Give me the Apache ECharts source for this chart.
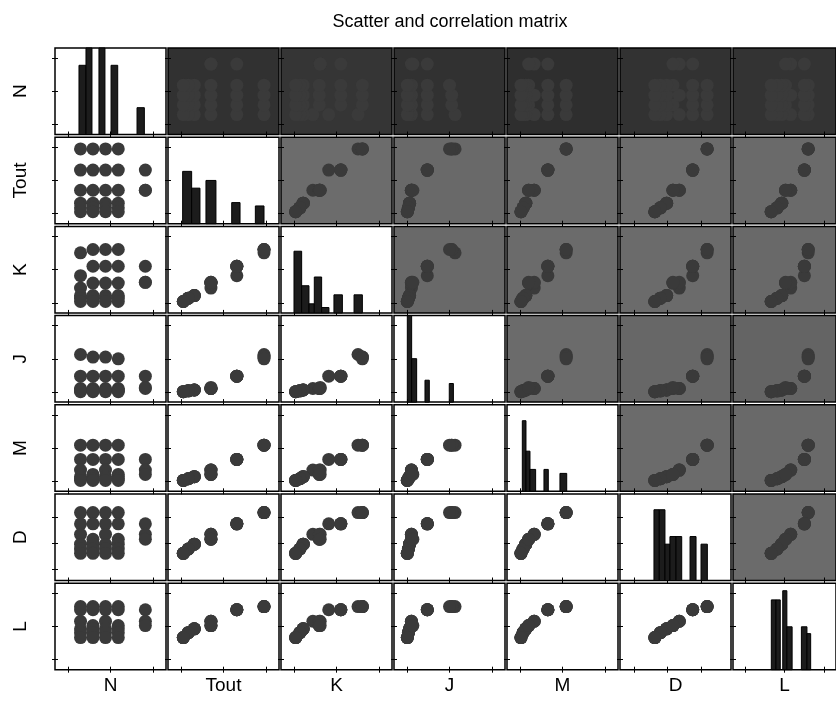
<!DOCTYPE html>
<html>
<head>
<meta charset="utf-8">
<script src="https://cdn.jsdelivr.net/npm/echarts@6/dist/echarts.min.js"></script>
<style>html,body{margin:0;padding:0;background:#fff}#c{width:836px;height:708px}</style>
</head>
<body>
<div id="c"></div>
<script>
// ---- data (values in percent of each variable's axis range) ----
const varNames = ['N', 'Tout', 'K', 'J', 'M', 'D', 'L'];

const N    = [23,23,23,23,23,23, 34.2,34.2,34.2,34.2,34.2,34.2, 45.5,45.5,45.5,45.5,45.5,45.5, 57,57,57,57,57,57, 81.4,81.4,81.4];
const Tout = [86.5,62,38.7,23.7,18.3,13.8, 86.5,62,38.7,23.7,18.3,13.8, 86.5,62,38.7,23.7,18.3,13.8, 86.5,62,38.7,23.7,18.3,13.8, 62,38.7,38.7];
const K    = [69.4,43,28.7,20,17,13.2, 73.3,53.9,34.5,20,17,13.2, 73.3,53.9,34.5,20,17,13.2, 73.3,53.9,34.5,20,17,13.2, 53.9,35.3,35.3];
const J    = [55,30,15.7,14,13,12, 52,30,15.7,14,13,12, 52,30,15.7,14,13,12, 50,30,15.7,14,13,12, 30,15.7,17];
const M    = [53.3,36.8,24.5,16.9,14.5,12.6, 53.3,36.8,19.5,16.9,14.5,12.6, 53.3,36.8,24.5,16.9,14.5,12.6, 53.3,36.8,19.5,16.9,14.5,12.6, 36.8,24.5,19.5];
const D    = [78.5,65.5,53.4,42,36.4,31.4, 78.5,65.5,47.7,42,36.4,31.4, 78.5,65.5,53.4,42,36.4,31.4, 78.5,65.5,47.7,42,36.4,31.4, 65.5,53.4,47.7];
const L    = [73,69.3,56,47.3,42.8,37.1, 73,69.3,51,47.3,42.8,37.1, 73,69.3,56,47.3,42.8,37.1, 73,69.3,51,47.3,42.8,37.1, 69.3,56,51];

// histogram bars on the diagonal: [bin start, bin end, bar height (% of cell)]
const histN    = [[21.6,27.9,80],[27.9,33.3,100],[39.6,45,100],[50.5,56.5,80],[73.9,80.5,31]];
const histTout = [[13.2,21.3,60.5],[21.3,28.8,41.1],[34.2,43.2,50],[57.4,64.9,24.4],[78.7,86.5,20.5]];
const histK    = [[11.7,18.6,71.3],[18.6,25.2,31.4],[25.2,30,10.5],[30,36.6,41.5],[36.6,43.2,6.2],[47.7,55.3,20.9],[65.8,73.3,20.9]];
const histJ    = [[12,15.9,100],[15.9,20.4,50.2],[27.9,31.8,25.3],[49.8,53.5,21.5]];
const histM    = [[13.8,17.1,81.6],[17.1,20.7,46.4],[20.7,25.8,25.3],[33.3,37.2,25.3],[47.7,53.8,20.7]];
const histD    = [[30.6,35.4,81.8],[35.4,40.5,81.8],[40.5,45,42],[45,50.5,50.8],[50.5,55.6,50.8],[63.1,68.5,50.8],[73,78.7,42]];
const histL    = [[37.2,41.7,80.7],[41.7,45.9,80.7],[48.3,52.3,91.3],[52.3,57.4,49.6],[66.4,71.8,49.6],[71.8,75.4,41.7]];

// tick positions of each variable's axis
const tickPos = [[11.7,50,88.3],[11.7,50,88.3],[11.7,50,88.3],[11.7,50,88.3],[11.7,50,88.3],[12.5,43,73.5],[11.7,50,88.3]];

// ---- chart ----
const FONT = '"Liberation Sans", Arial, Helvetica, sans-serif';
const vars = [N, Tout, K, J, M, D, L];
const hists = [histN, histTout, histK, histJ, histM, histD, histL];

function pearson(a, b) {
  const n = a.length;
  let ma = 0, mb = 0;
  for (let k = 0; k < n; k++) { ma += a[k]; mb += b[k]; }
  ma /= n; mb /= n;
  let sab = 0, saa = 0, sbb = 0;
  for (let k = 0; k < n; k++) {
    const da = a[k] - ma, db = b[k] - mb;
    sab += da * db; saa += da * da; sbb += db * db;
  }
  return sab / Math.sqrt(saa * sbb);
}

const nv = varNames.length;
const grids = [], xAxes = [], yAxes = [], series = [];
for (let i = 0; i < nv; i++) {
  for (let j = 0; j < nv; j++) {
    const g = i * nv + j;
    let bg = '#ffffff';
    if (j > i) {
      const r = Math.abs(pearson(vars[i], vars[j]));
      const v = Math.round(46 + r * 62);
      bg = 'rgb(' + v + ',' + v + ',' + v + ')';
    }
    grids.push({
      left: 55 + 113 * j, top: 48 + 89.2 * i, width: 111, height: 86.5,
      show: true, backgroundColor: bg, borderColor: '#000', borderWidth: 1.5
    });
    const tickX = { show: true, inside: true, length: 3, customValues: tickPos[j], lineStyle: { color: '#000', width: 1 } };
    const tickY = { show: true, inside: true, length: 3, customValues: tickPos[i], lineStyle: { color: '#000', width: 1 } };
    const base = { type: 'value', min: 0, max: 100, axisLine: { show: false }, axisLabel: { show: false }, splitLine: { show: false } };
    const xb = Object.assign({}, base, { gridIndex: g, position: 'bottom', axisTick: tickX });
    if (i === nv - 1) {
      xb.name = varNames[j]; xb.nameLocation = 'middle'; xb.nameGap = 7;
      xb.nameTextStyle = { fontSize: 19, color: '#000', fontFamily: FONT };
    }
    xAxes.push(xb);
    xAxes.push(Object.assign({}, base, { gridIndex: g, position: 'top', axisTick: tickX }));
    const yl = Object.assign({}, base, { gridIndex: g, position: 'left', axisTick: tickY });
    if (j === 0) {
      yl.name = varNames[i]; yl.nameLocation = 'middle'; yl.nameGap = 25; yl.nameRotate = 90;
      yl.nameTextStyle = { fontSize: 19, color: '#000', fontFamily: FONT };
    }
    yAxes.push(yl);
    yAxes.push(Object.assign({}, base, { gridIndex: g, position: 'right', axisTick: tickY }));

    if (i === j) {
      series.push({
        type: 'custom', xAxisIndex: 2 * g, yAxisIndex: 2 * g, silent: true,
        encode: { x: [0, 1], y: 2 },
        data: hists[i],
        renderItem: function (params, api) {
          const p0 = api.coord([api.value(0), api.value(2)]);
          const p1 = api.coord([api.value(1), 0]);
          const cs = params.coordSys;
          const rect = echarts.graphic.clipRectByRect(
            { x: p0[0], y: p0[1], width: p1[0] - p0[0], height: p1[1] - p0[1] },
            { x: cs.x, y: cs.y, width: cs.width, height: cs.height });
          return rect && { type: 'rect', shape: rect, style: { fill: '#1c1c1c', stroke: '#000', lineWidth: 1 } };
        }
      });
    } else {
      const xs = vars[j], ys = vars[i];
      series.push({
        type: 'scatter', xAxisIndex: 2 * g, yAxisIndex: 2 * g, silent: true,
        symbolSize: 13, itemStyle: { color: '#3a3a3a', opacity: 1 },
        data: xs.map(function (v, k) { return [v, ys[k]]; })
      });
    }
  }
}

const chart = echarts.init(document.getElementById('c'), null, { renderer: 'canvas' });
chart.setOption({
  animation: false,
  backgroundColor: '#ffffff',
  title: {
    text: 'Scatter and correlation matrix', left: 445, top: 8, textAlign: 'center',
    textStyle: { fontSize: 18, fontWeight: 'normal', color: '#000', fontFamily: FONT }
  },
  grid: grids, xAxis: xAxes, yAxis: yAxes, series: series
});
</script>
</body>
</html>
